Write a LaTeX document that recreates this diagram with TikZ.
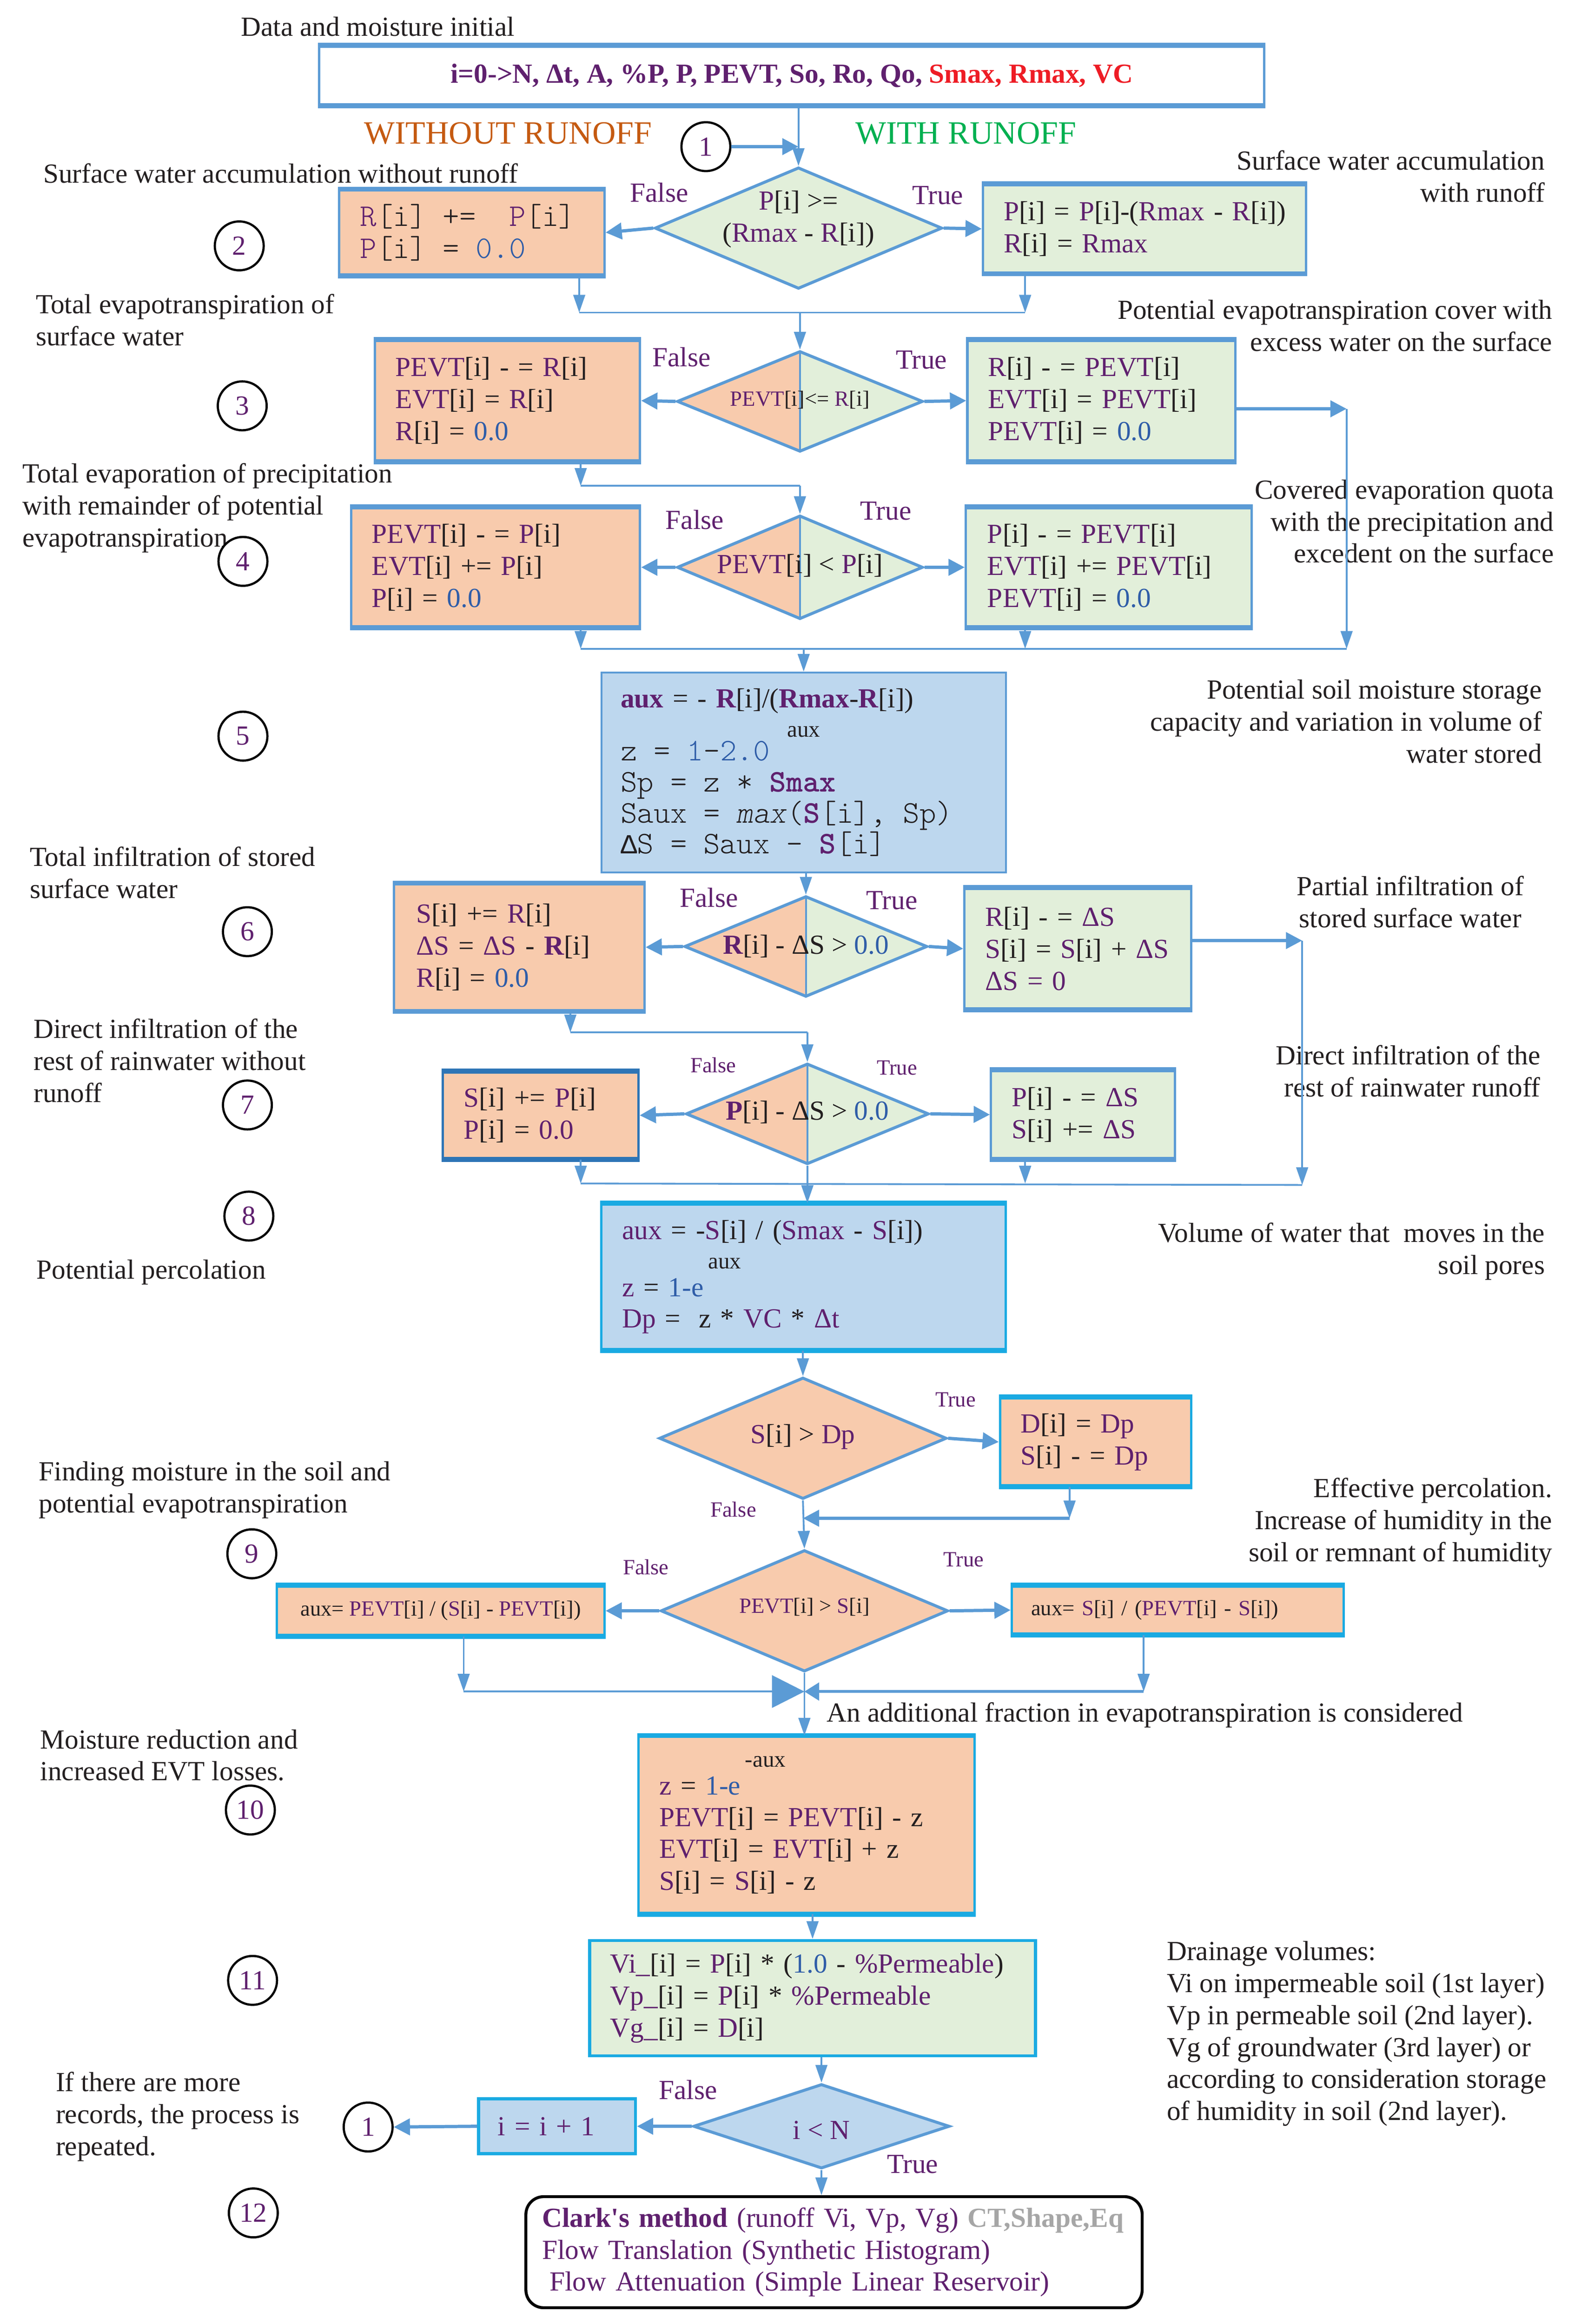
\documentclass[tikz,border=0pt]{standalone}
\usepackage{fontspec}
\setmainfont{Liberation Serif}
\setmonofont{lmmonolt10}[Extension=.otf, UprightFont=*-regular, BoldFont=*-bold, ItalicFont=*-oblique, BoldItalicFont=*-boldoblique, Scale=1.143]
\newfontfamily\lmo{Liberation Mono}
\usetikzlibrary{shapes.geometric,arrows.meta,calc}
\definecolor{pur}{HTML}{5F206E}
\definecolor{dk}{HTML}{231F20}
\definecolor{bln}{HTML}{2F5DA8}
\definecolor{lb}{HTML}{5B9BD5}
\definecolor{bb}{HTML}{1AAAE2}
\definecolor{db}{HTML}{2E75B6}
\definecolor{pf}{HTML}{F8CBAD}
\definecolor{gf}{HTML}{E2EFDA}
\definecolor{bf}{HTML}{BDD7EE}
\definecolor{rd}{HTML}{EE1C25}
\definecolor{orn}{HTML}{C55A11}
\definecolor{grn}{HTML}{00B050}
\definecolor{gry}{HTML}{A6A6A6}
\newcommand\pv[1]{\textcolor{pur}{#1}}
\newcommand\bl[1]{\textcolor{bln}{#1}}
\newcommand\ms{\hphantom{0}}
\newcommand\fsn{\fontsize{18.7}{21.7}\selectfont}
\newcommand\fss{\fontsize{14.7}{17}\selectfont}
\newcommand\fsl{\fontsize{22}{26}\selectfont}
\newcommand\fsa{\fontsize{15.5}{18}\selectfont}
\begin{document}
\begin{tikzpicture}[x=1bp,y=-1bp,
  every node/.style={font=\fsn, text=dk, inner sep=0pt},
  bx/.style={draw=lb, line width=1.6, rectangle, inner ysep=0pt, align=left},
  dm/.style={diamond, draw=lb, line width=2},
  split/.style={fill=gf, path picture={\fill[pf] (path picture bounding box.north west) rectangle (path picture bounding box.south); \draw[lb,line width=1.2] (path picture bounding box.north) -- (path picture bounding box.south);}},
  cn/.style={circle, draw=black, line width=1.5, fill=white, minimum size=33bp, text=pur},
  fl/.style={draw=lb, line width=1.2, -{Triangle[length=12pt,width=8pt]}},
  ln/.style={draw=lb, line width=1.2},
  sa/.style={draw=lb, line width=2.2, -{Triangle[length=11pt,width=11pt]}},
  bigtip/.style={draw=lb, line width=1.2, -{Triangle[length=22pt,width=22pt]}},
  lbl/.style={text=pur},
  ann/.style={text=dk}
]
\path[use as bounding box, fill=white] (0,0) rectangle (1067,1569);

% ---------- annotations ----------
\node[ann] (a0) at (255,18) {Data and moisture initial};
\node[font=\fsl, text=orn] (wo) at (343,90) {WITHOUT RUNOFF};
\node[font=\fsl, text=grn] (wi) at (652,90) {WITH RUNOFF};
\node[ann, anchor=west] (a1) at (29,117) {Surface water accumulation without runoff};
\node[ann, anchor=east, align=right] (a2) at (1043,119) {Surface water accumulation\\with runoff};
\node[ann, anchor=west, align=left] (a3) at (24,216) {Total evapotranspiration of\\surface water};
\node[ann, anchor=east, align=right] (a4) at (1048,220) {Potential evapotranspiration cover with\\excess water on the surface};
\node[ann, anchor=west, align=left] (a5) at (15,343) {Total evaporation of precipitation\\with remainder of potential\\evapotranspiration};
\node[ann, anchor=east, align=right] (a6) at (1049,352) {Covered evaporation quota\\with the precipitation and\\excedent on the surface};
\node[ann, anchor=east, align=right] (a7) at (1041,487) {Potential soil moisture storage\\capacity and variation in volume of\\water stored};
\node[ann, anchor=west, align=left] (a8) at (20,589) {Total infiltration of stored\\surface water};
\node[ann, align=center] (a9) at (952,609) {Partial infiltration of\\stored surface water};
\node[ann, anchor=west, align=left] (a10) at (22.5,716) {Direct infiltration of the\\rest of rainwater without\\runoff};
\node[ann, anchor=east, align=right] (a11) at (1040,723) {Direct infiltration of the\\rest of rainwater runoff};
\node[ann, anchor=west] (a12) at (24.5,859) {Potential percolation};
\node[ann, anchor=east, align=right] (a13) at (1043,845) {Volume of water that~~moves in the\\soil pores};
\node[ann, anchor=west, align=left] (a14) at (26,1006) {Finding moisture in the soil and\\potential evapotranspiration};
\node[ann, anchor=east, align=right] (a15) at (1048,1028) {Effective percolation.\\Increase of humidity in the\\soil or remnant of humidity};
\node[ann, anchor=west] (a16) at (558,1158) {An additional fraction in evapotranspiration is considered};
\node[ann, anchor=west, align=left] (a17) at (27,1185) {Moisture reduction and\\increased EVT losses.};
\node[ann, anchor=west, align=left] (a18) at (787.5,1373) {Drainage volumes:\\Vi on impermeable soil (1st layer)\\Vp in permeable soil (2nd layer).\\Vg of groundwater (3rd layer) or\\according to consideration storage\\of humidity in soil (2nd layer).};
\node[ann, anchor=west, align=left] (a19) at (37.5,1429) {If there are more\\records, the process is\\repeated.};

% ---------- boxes ----------
\node[bx, minimum width=638bp, minimum height=39bp, align=center, font=\fsn\bfseries, text=pur] (top) at (534.5,51) {i=0->N, Δt, A, \%P, P, PEVT, So, Ro, Qo, \textcolor{rd}{Smax, Rmax, VC}};

\node[bx, fill=pf, minimum height=57bp, text width=151bp, inner xsep=14bp, font=\fsn\ttfamily] (B2L) at (318.5,157) {\pv{R}[i]\ms+=\ms\ms\pv{P}[i]\\\pv{P}[i]\ms=\ms\bl{0.0}};
\node[bx, fill=gf, minimum height=59bp, text width=190bp, inner xsep=14bp] (B2R) at (772.5,154.5) {\mbox{\pv{P}[i] = \pv{P}[i]-(\pv{Rmax} - \pv{R}[i])}\\\pv{R}[i] = \pv{Rmax}};

\node[bx, fill=pf, minimum height=81bp, text width=151bp, inner xsep=14bp] (B3L) at (342.5,270.5) {\pv{PEVT}[i] - = \pv{R}[i]\\\pv{EVT}[i] = \pv{R}[i]\\\pv{R}[i] = \bl{0.0}};
\node[bx, fill=gf, minimum height=81bp, text width=153bp, inner xsep=14bp] (B3R) at (743.5,270.5) {\pv{R}[i] - = \pv{PEVT}[i]\\\pv{EVT}[i] = \pv{PEVT}[i]\\\pv{PEVT}[i] = \bl{0.0}};

\node[bx, fill=pf, minimum height=80bp, text width=167bp, inner xsep=14bp] (B4L) at (334.5,383) {\pv{PEVT}[i] - = \pv{P}[i]\\\pv{EVT}[i] += \pv{P}[i]\\\pv{P}[i] = \bl{0.0}};
\node[bx, fill=gf, minimum height=80bp, text width=164bp, inner xsep=14.5bp] (B4R) at (748.5,383) {\pv{P}[i] - = \pv{PEVT}[i]\\\pv{EVT}[i] += \pv{PEVT}[i]\\\pv{PEVT}[i] = \bl{0.0}};

\node[bx, fill=bf, line width=1.2, minimum height=135bp, text width=247bp, inner xsep=13bp, font=\fontsize{18.7}{21}\selectfont] (B5) at (542.5,521.5) {\textbf{\pv{aux}} = - \textbf{\pv{R}}[i]/(\textbf{\pv{Rmax}}-\textbf{\pv{R}}[i])\\[-1pt]\makebox[247bp][c]{\fsa aux}\\[-5pt]{\ttfamily z\ms=\ms\bl{1}-\bl{2.0}}\\{\ttfamily Sp\ms=\ms z\ms*\ms\textbf{\pv{Smax}}}\\{\ttfamily Saux\ms=\ms\textit{max}(\textbf{\pv{S}}[i],\ms Sp)}\\{\ttfamily {\lmo Δ}S\ms=\ms Saux\ms-\ms\textbf{\pv{S}}[i]}};

\node[bx, fill=pf, minimum height=85bp, text width=139bp, inner xsep=15bp] (B6L) at (350.5,639.5) {\pv{S}[i] += \pv{R}[i]\\\pv{ΔS} = \pv{ΔS} - \textbf{\pv{R}}[i]\\\pv{R}[i] = \bl{0.0}};
\node[bx, fill=gf, minimum height=81bp, text width=125bp, inner xsep=14bp] (B6R) at (727.5,640.5) {\pv{R}[i] - = \pv{ΔS}\\\mbox{\pv{S}[i] = \pv{S}[i] + \pv{ΔS}}\\\pv{ΔS = 0}};

\node[bx, draw=db, fill=pf, minimum height=58bp, text width=104bp, inner xsep=14bp] (B7L) at (365,753) {\pv{S}[i] += \pv{P}[i]\\\pv{P}[i] = \pv{0.0}};
\node[bx, fill=gf, minimum height=59bp, text width=96bp, inner xsep=14bp] (B7R) at (731,752.5) {\pv{P}[i] - = \pv{ΔS}\\\pv{S}[i] += \pv{ΔS}};

\node[bx, draw=bb, fill=bf, minimum height=98bp, text width=245bp, inner xsep=14bp, font=\fontsize{18.7}{21}\selectfont] (B8) at (542.5,862) {\pv{aux} = -\pv{S}[i] / (\pv{Smax} - \pv{S}[i])\\[-1pt]\hspace*{58bp}{\fsa aux}\\[-2pt]\pv{z} = \bl{1-e}\\\pv{Dp} =~~z * \pv{VC} * \pv{Δt}};

\node[bx, draw=bb, fill=pf, minimum height=59bp, text width=101bp, inner xsep=14bp] (B9a) at (739.5,973.5) {\pv{D}[i] = \pv{Dp}\\\pv{S}[i] - = \pv{Dp}};

\node[bx, draw=bb, fill=pf, minimum height=33bp, minimum width=221bp, align=center, font=\fss] (B9bL) at (297.5,1087.5) {aux= \pv{PEVT}[i] / (\pv{S}[i] - \pv{PEVT}[i])};
\node[bx, draw=bb, fill=pf, minimum height=32bp, text width=198bp, inner xsep=13bp, font=\fss] (B9bR) at (795,1087) {aux= \pv{S}[i] / (\pv{PEVT}[i] - \pv{S}[i])};

\node[bx, draw=bb, fill=pf, minimum height=119bp, text width=199bp, inner xsep=14bp, font=\fontsize{18.7}{21.5}\selectfont] (B10) at (544.5,1232) {\hspace*{58bp}{\fsa -aux}\\[-2.5pt]\pv{z} = \bl{1-e}\\\pv{PEVT}[i] = \pv{PEVT}[i] - z\\\pv{EVT}[i] = \pv{EVT}[i] + z\\\pv{S}[i] = \pv{S}[i] - z};

\node[bx, draw=bb, line width=2, fill=gf, minimum height=78bp, text width=273bp, inner xsep=14bp] (B11) at (548.5,1349) {\mbox{\pv{Vi\_}[i] = \pv{P}[i] * (\bl{1.0} - \pv{\%Permeable})}\\\pv{Vp\_}[i] = \pv{P}[i] * \pv{\%Permeable}\\\pv{Vg\_}[i] = \pv{D}[i]};

\node[bx, draw=bb, line width=2, fill=bf, minimum height=37bp, text width=80bp, inner xsep=13bp] (Bi) at (376,1435.5) {\pv{i = i + 1}};

\node[bx, draw=black, line width=2, fill=white, rounded corners=12bp, minimum height=75bp, text width=394bp, inner xsep=11bp] (CL) at (563,1520.5) {\mbox{\textbf{\pv{Clark\textquotesingle s method}} \pv{(runoff Vi, Vp, Vg)} \textbf{\textcolor{gry}{CT,Shape,Eq}}}\\\pv{Flow Translation (Synthetic Histogram)}\\\hspace*{5bp}\pv{Flow Attenuation (Simple Linear Reservoir)}};

\foreach \n/\c in {top/lb,B2L/lb,B2R/lb,B3L/lb,B3R/lb,B4L/lb,B4R/lb,B6L/lb,B6R/lb,B7R/lb,B7L/db,B8/bb,B9a/bb,B9bL/bb,B9bR/bb,B10/bb}
  \draw[draw=\c, line width=3.4] (\n.north west) -- (\n.north east) (\n.south west) -- (\n.south east);

% ---------- diamonds ----------
\node[dm, fill=gf, minimum width=194bp, minimum height=82bp] (D1) at (539,154) {};
\node[align=center] (D1t) at (539,148) {\pv{P}[i] >=\\(\pv{Rmax} - \pv{R}[i])};
\node[dm, split, minimum width=166bp, minimum height=68bp] (D2) at (540,271) {};
\node[font=\fss] (D2t) at (540,270) {\pv{PEVT}[i]<= \pv{R}[i]};
\node[dm, split, minimum width=166bp, minimum height=70bp] (D3) at (540,383) {};
\node (D3t) at (540,382) {\pv{PEVT}[i] < \pv{P}[i]};
\node[dm, split, minimum width=164bp, minimum height=68bp] (D6) at (544,639) {};
\node (D6t) at (544,639) {\textbf{\pv{R}}[i] - ΔS > \bl{0.0}};
\node[dm, split, minimum width=164bp, minimum height=68bp] (D7) at (545,752) {};
\node (D7t) at (545,751) {\textbf{\pv{P}}[i] - ΔS > \bl{0.0}};
\node[dm, fill=pf, minimum width=194bp, minimum height=82bp] (D9a) at (542,971) {};
\node (D9at) at (542,970) {\pv{S}[i] > \pv{Dp}};
\node[dm, fill=pf, minimum width=194bp, minimum height=82bp] (D9b) at (543,1087.5) {};
\node[font=\fss] (D9bt) at (543,1085) {\pv{PEVT}[i] > \pv{S}[i]};
\node[dm, fill=bf, minimum width=173bp, minimum height=57bp] (D12) at (554.5,1435.5) {};
\node (D12t) at (554.5,1438) {\pv{i < N}};

% ---------- True / False labels ----------
\node[lbl] (F1) at (445,130) {False};
\node[lbl] (T1) at (633,132) {True};
\node[lbl] (F2) at (460,241) {False};
\node[lbl] (T2) at (622,243) {True};
\node[lbl] (F3) at (469,351) {False};
\node[lbl] (T3) at (598,345) {True};
\node[lbl] (F6) at (478.5,606) {False};
\node[lbl] (T6) at (602,608) {True};
\node[lbl, font=\fss] (F7) at (481.5,719) {False};
\node[lbl, font=\fss] (T7) at (605.5,721) {True};
\node[lbl, font=\fss] (T9a) at (645,945) {True};
\node[lbl, font=\fss] (F9a) at (495,1019) {False};
\node[lbl, font=\fss] (F9b) at (436,1058) {False};
\node[lbl, font=\fss] (T9b) at (650.5,1053) {True};
\node[lbl] (F12) at (464.5,1411) {False};
\node[lbl] (T12) at (616,1461) {True};

% ---------- circles ----------
\node[cn] (c1a) at (476.5,99) {1};
\node[cn] (c2) at (161.5,166) {2};
\node[cn] (c3) at (163.5,274) {3};
\node[cn] (c4) at (164,379) {4};
\node[cn] (c5) at (164,497) {5};
\node[cn] (c6) at (167,629) {6};
\node[cn] (c7) at (167,746) {7};
\node[cn] (c8) at (168,821) {8};
\node[cn] (c9) at (170,1049) {9};
\node[cn] (c10) at (169,1222) {10};
\node[cn] (c11) at (170.5,1337) {11};
\node[cn] (c1b) at (248.5,1436) {1};
\node[cn] (c12) at (171,1494) {12};

% ---------- junction coordinates ----------
\coordinate (j1L) at (391,211);
\coordinate (j1R) at (692,211);
\coordinate (j2L) at (392,328);
\coordinate (r1) at (909,276);
\coordinate (r1b) at (909,438);
\coordinate (j3L) at (392,438);
\coordinate (j3R) at (692,438);
\coordinate (r2) at (879,635);
\coordinate (r2b) at (879,800);
\coordinate (j4L) at (385,697);
\coordinate (j5L) at (392,799);
\coordinate (j5R) at (692,799);
\coordinate (j6R) at (722,1025);
\coordinate (j7L) at (313,1142);
\coordinate (j7R) at (772,1142);

% ---------- connectors ----------
\draw[fl] (top.south -| D1.north) -- (D1.north);
\draw[sa] (c1a.east) -- (c1a.east -| D1.north);
\draw[sa] (D1.west) -- (B2L.east);
\draw[sa] (D1.east) -- (B2R.west);
\draw[fl] (B2L.south -| j1L) -- (j1L);
\draw[fl] (B2R.south -| j1R) -- (j1R);
\draw[ln] (j1L) -- (j1R);
\draw[fl] (j1L -| D2.north) -- (D2.north);
\draw[sa] (D2.west) -- (B3L.east);
\draw[sa] (D2.east) -- (B3R.west);
\draw[sa] (B3R.east |- r1) -- (r1);
\draw[fl] (r1) -- (r1b);
\draw[fl] (B3L.south -| j2L) -- (j2L);
\draw[ln] (j2L) -- (j2L -| D3.north);
\draw[fl] (j2L -| D3.north) -- (D3.north);
\draw[sa] (D3.west) -- (B4L.east);
\draw[sa] (D3.east) -- (B4R.west);
\draw[fl] (B4L.south -| j3L) -- (j3L);
\draw[fl] (B4R.south -| j3R) -- (j3R);
\draw[ln] (j3L) -- (r1b);
\draw[fl] (j3L -| B5.north) -- (B5.north);
\draw[fl] (B5.south -| D6.north) -- (D6.north);
\draw[sa] (D6.west) -- (B6L.east);
\draw[sa] (D6.east) -- (B6R.west);
\draw[sa] (B6R.east |- r2) -- (r2);
\draw[fl] (r2) -- (r2b);
\draw[fl] (B6L.south -| j4L) -- (j4L);
\draw[ln] (j4L) -- (j4L -| D7.north);
\draw[fl] (j4L -| D7.north) -- (D7.north);
\draw[sa] (D7.west) -- (B7L.east);
\draw[sa] (D7.east) -- (B7R.west);
\draw[fl] (B7L.south -| j5L) -- (j5L);
\draw[fl] (B7R.south -| j5R) -- (j5R);
\draw[ln] (j5L) -- (r2b);
\draw[fl] (D7.south) -- (D7.south |- B8.north);
\draw[fl] (B8.south -| D9a.north) -- (D9a.north);
\draw[sa] (D9a.east) -- (B9a.west);
\draw[fl] (B9a.south -| j6R) -- (j6R);
\draw[sa] (j6R) -- (j6R -| D9a.south);
\draw[fl] (D9a.south) -- (D9b.north);
\draw[sa] (D9b.west) -- (B9bL.east);
\draw[sa] (D9b.east) -- (B9bR.west);
\draw[fl] (B9bL.south -| j7L) -- (j7L);
\draw[fl] (B9bR.south -| j7R) -- (j7R);
\draw[bigtip] (j7L) -- (j7L -| D9b.south);
\draw[draw=lb, line width=1.8, -{Triangle[length=10pt,width=12pt]}] (j7R) -- (j7R -| D9b.south);
\draw[fl] (D9b.south) -- (D9b.south |- B10.north);
\draw[fl] (B10.south -| B11.north) -- (B11.north);
\draw[fl] (B11.south -| D12.north) -- (D12.north);
\draw[sa] (D12.west) -- (Bi.east);
\draw[sa] (Bi.west) -- (c1b.east);
\draw[fl] (D12.south) -- (D12.south |- CL.north);
\end{tikzpicture}
\end{document}
